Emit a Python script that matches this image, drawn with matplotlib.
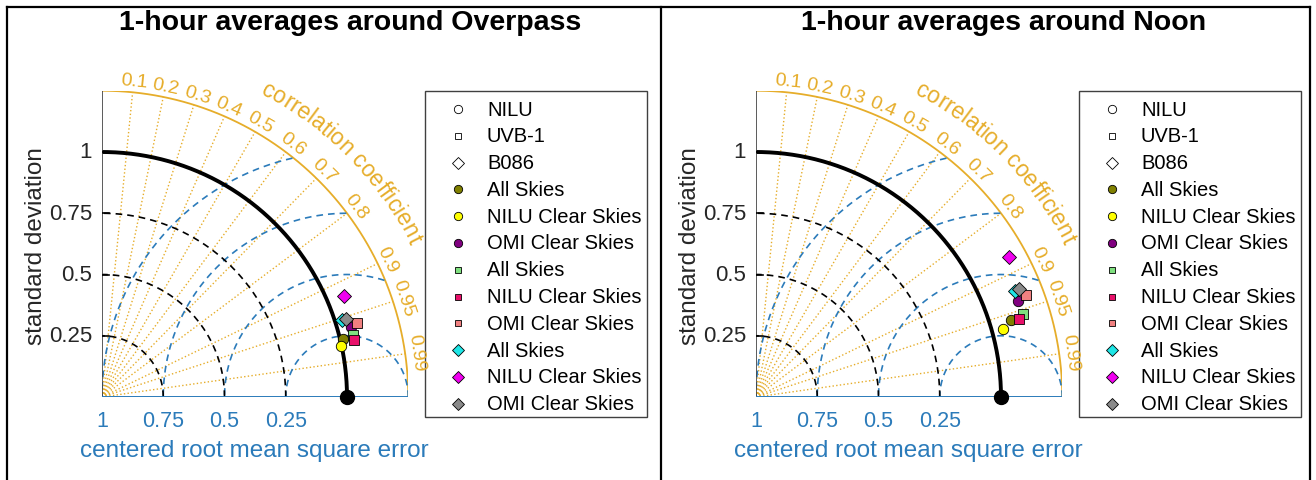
import numpy as np
import matplotlib
matplotlib.use("Agg")
import matplotlib.pyplot as plt
from matplotlib.patches import Rectangle
from matplotlib.font_manager import FontProperties
from matplotlib.textpath import TextToPath

plt.rcParams['font.family'] = ['Liberation Sans', 'DejaVu Sans']

# ---- data (normalised std dev and correlation) ----
titles = ["1-hour averages around Overpass", "1-hour averages around Noon"]
labels = ["All Skies", "NILU Clear Skies", "OMI Clear Skies"] * 3
markers = ["o", "o", "o", "s", "s", "s", "D", "D", "D"]
colors = ["#808000", "#FFFF00", "#800080",
          "#7FE07F", "#E8106A", "#F08080",
          "#1EE6E6", "#F000F0", "#8A8A8A"]

std_overpass = [1.013, 0.996, 1.054, 1.057, 1.055, 1.086, 1.030, 1.070, 1.046]
cor_overpass = [0.972, 0.978, 0.963, 0.971, 0.975, 0.960, 0.952, 0.923, 0.952]

std_noon = [1.089, 1.047, 1.137, 1.140, 1.118, 1.178, 1.144, 1.181, 1.162]
cor_noon = [0.957, 0.964, 0.939, 0.955, 0.959, 0.936, 0.925, 0.876, 0.925]

station_labels = ["NILU", "UVB-1", "B086"]
station_markers = ["o", "s", "D"]

std_ticks = [0.25, 0.5, 0.75, 1]
rms_ticks = [1, 0.75, 0.5, 0.25]
cor_ticks = [0.1, 0.2, 0.3, 0.4, 0.5, 0.6, 0.7, 0.8, 0.9, 0.95, 0.99]
rms_circles = [0.25, 0.5, 0.75, 1.0]
std_max = 1.25

ORANGE = "#E6AD2A"
BLUE = "#2B7BBA"
DARK = "#262626"

W, H = 1316, 481
S = 245.0  # pixels per unit


def curved_text(ax, text, radius, center_deg, fs, color):
    fp = FontProperties(family='Liberation Sans', size=fs)
    ttp = TextToPath()
    scale = (100 / 72) / S
    total = ttp.get_text_width_height_descent(text, fp, ismath=False)[0] * scale
    start = np.deg2rad(center_deg) + total / 2 / radius
    for i, ch in enumerate(text):
        if ch == " ":
            continue
        w0 = ttp.get_text_width_height_descent(text[:i], fp, ismath=False)[0] if i else 0
        wc = ttp.get_text_width_height_descent(ch, fp, ismath=False)[0]
        s = (w0 + wc / 2) * scale
        ang = start - s / radius
        ax.text(radius * np.cos(ang), radius * np.sin(ang), ch, fontsize=fs,
                color=color, rotation=np.rad2deg(ang) - 90, rotation_mode='anchor',
                ha='center', va='baseline', clip_on=False)


def taylor(ax, std, cor):
    ax.set_xlim(0, std_max)
    ax.set_ylim(0, std_max)
    ax.set_aspect('equal')
    ax.axis('off')

    t = np.linspace(0, np.pi / 2, 200)

    # correlation rays and labels
    for c in cor_ticks:
        a = np.arccos(c)
        ax.plot([0, std_max * np.cos(a)], [0, std_max * np.sin(a)], ':',
                color=ORANGE, lw=1.0, zorder=1)
        ax.text(1.295 * np.cos(a), 1.295 * np.sin(a), f"{c:g}", fontsize=14,
                color=ORANGE, rotation=np.rad2deg(a) - 90, rotation_mode='anchor',
                ha='center', va='center')
    ax.plot(std_max * np.cos(t), std_max * np.sin(t), color=ORANGE, lw=1.3, zorder=2)
    curved_text(ax, "correlation coefficient", 1.40, 44.5, 16.5, ORANGE)

    # centered RMS circles around the reference point
    for r in rms_circles:
        th = np.linspace(0, np.pi, 400)
        x = 1 + r * np.cos(th)
        y = r * np.sin(th)
        keep = np.hypot(x, y) <= std_max
        x, y = x[keep], y[keep]
        ax.plot(x, y, color=BLUE, lw=1.2, ls=(0, (4, 3)), zorder=2)

    # std circles
    for r in std_ticks:
        if r == 1:
            ax.plot(r * np.cos(t), r * np.sin(t), color='black', lw=2.8, zorder=3)
        else:
            ax.plot(r * np.cos(t), r * np.sin(t), color='black', lw=1.2,
                    ls=(0, (4, 3)), zorder=3)

    # axes
    ax.plot([0, 0], [0, std_max], color='#404040', lw=1.2, zorder=4)
    ax.plot([0, std_max], [0, 0], color=BLUE, lw=1.4, zorder=4)
    for v in std_ticks:
        ax.plot([0, 0.03], [v, v], color='black', lw=1.2, zorder=4)
        ax.text(-0.04, v, f"{v:g}", fontsize=16, color=DARK, ha='right', va='center')
    for v in rms_ticks:
        ax.text(1 - v, -0.094, f"{v:g}", fontsize=15.5, color=BLUE, ha='center', va='center')
    ax.text(-0.27, 0.62, "standard deviation", fontsize=17.5, color=DARK,
            rotation=90, ha='center', va='center')
    ax.text(0.62, -0.216, "centered root mean square error", fontsize=17.5,
            color=BLUE, ha='center', va='center')

    # reference point
    ax.plot([1], [0], 'o', color='black', ms=10, zorder=6, clip_on=False)

    # model points
    for s, c, m, col in zip(std, cor, markers, colors):
        a = np.arccos(c)
        ms = 6.5 if m == 's' else 7.5
        ax.plot([s * np.cos(a)], [s * np.sin(a)], m, ms=ms, mfc=col, mec='black',
                mew=0.6, zorder=7, clip_on=False)


fig = plt.figure(figsize=(W / 100, H / 100), dpi=100)
bg = fig.add_axes([0, 0, 1, 1])
bg.set_xlim(0, W)
bg.set_ylim(H, 0)
bg.axis('off')

# frame around the two panels
bg.plot([7, 1310], [8, 8], color='black', lw=1.6)
bg.plot([7, 7], [8, H], color='black', lw=1.6)
bg.plot([661, 661], [8, H], color='black', lw=1.6)
bg.plot([1310, 1310], [8, H], color='black', lw=1.6)

panels = [(102, std_overpass, cor_overpass), (756, std_noon, cor_noon)]
for k, (ox, std, cor) in enumerate(panels):
    oy = 398
    ax = fig.add_axes([ox / W, (H - oy) / H, std_max * S / W, std_max * S / H])
    taylor(ax, std, cor)

    dx = ox - 102
    bg.text(350 + dx, 30, titles[k], fontsize=20.5, fontweight='bold',
            ha='center', va='baseline', color='black')

    # legend box
    bg.add_patch(Rectangle((425 + dx, 92), 222, 326, fill=False,
                           ec='#404040', lw=1.0))
    entries = [(lab, m, 'white') for lab, m in zip(station_labels, station_markers)]
    entries += list(zip(labels, markers, colors))
    for i, (lab, m, col) in enumerate(entries):
        y = 110 + 26.8 * i
        ms = 5 if m == 's' else 6
        bg.plot([458 + dx], [y], m, ms=ms, mfc=col, mec='black', mew=0.6)
        bg.text(487 + dx, y, lab, fontsize=14.5, color='black', ha='left', va='center')

fig.savefig("out.png", dpi=100)
